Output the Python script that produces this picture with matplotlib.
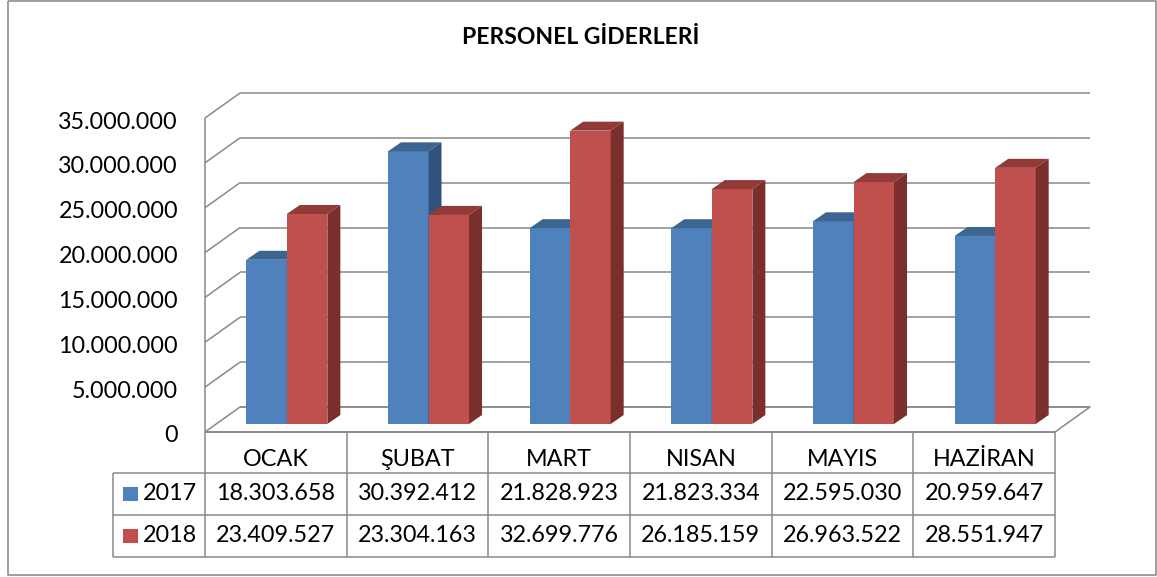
import matplotlib
matplotlib.use('Agg')
import matplotlib.pyplot as plt
import matplotlib.transforms as mtransforms
from matplotlib.patches import Polygon, Rectangle
from matplotlib.lines import Line2D

# ---------------- data ----------------
months = ['OCAK', 'ŞUBAT', 'MART', 'NISAN', 'MAYIS', 'HAZİRAN']
series_names = ['2017', '2018']
v2017 = [18303658, 30392412, 21828923, 21823334, 22595030, 20959647]
v2018 = [23409527, 23304163, 32699776, 26185159, 26963522, 28551947]
yticks = [0, 5000000, 10000000, 15000000, 20000000, 25000000, 30000000, 35000000]
ytick_labels = ['0', '5.000.000', '10.000.000', '15.000.000', '20.000.000',
                '25.000.000', '30.000.000', '35.000.000']
title = 'PERSONEL GİDERLERİ'

# ---------------- style ----------------
FONT = 'Lato'
FS = 16.8
W, H = 1157, 577
grid_col = '#898989'
front_cols = ['#4F81BD', '#C0504D']
top_cols = ['#3D6592', '#913A38']
side_cols = ['#31527D', '#7A2F2D']
LW = 1.1

fig = plt.figure(figsize=(W / 100, H / 100), dpi=100)
ax = fig.add_axes([205 / W, (H - 432) / H, 850 / W, 314 / H])
ax.set_xlim(0, len(months))
ax.set_ylim(0, 35000000)
ax.axis('off')

ID = mtransforms.IdentityTransform()


def P(x, y, dx=0.0, dy=0.0):
    px, py = ax.transData.transform((x, y))
    return (px + dx, py + dy)


def img(x, y):
    return (x, H - y)


def poly(pts, fc, ec='none', lw=0, z=2):
    fig.add_artist(Polygon(pts, closed=True, facecolor=fc, edgecolor=ec,
                           linewidth=lw, transform=ID, zorder=z))


def line(pts, color=grid_col, lw=LW, z=3):
    xs = [p[0] for p in pts]
    ys = [p[1] for p in pts]
    fig.add_artist(Line2D(xs, ys, color=color, linewidth=lw, transform=ID,
                          zorder=z, solid_capstyle='butt'))


# outer border
line([img(8, 1), img(1156, 1), img(1156, 575), img(8, 575), img(8, 1)],
     color='#8f8f8f', lw=1.2)

# wall depth
DX, DY = 35, 25
n = len(months)

# back wall gridlines + side wall gridlines
for yv in yticks:
    line([P(0, yv, DX, DY), P(n, yv, DX, DY)])
    line([P(0, yv), P(0, yv, DX, DY)])
# front edge of left wall
line([P(0, 0), P(0, yticks[-1])])
# floor
line([P(0, 0), P(n, 0), P(n, 0, DX, DY), P(0, 0, DX, DY)])

# bars
B0x, B0y = 11, 8      # front face depth offset
BDx, BDy = 13, 9      # bar depth
bw = 0.286
for i in range(n):
    c = i + 0.5
    for s, vals in enumerate([v2017, v2018]):
        x0 = c - bw + s * bw
        x1 = x0 + bw
        v = vals[i]
        fl = P(x0, 0, B0x, B0y)
        fr = P(x1, 0, B0x, B0y)
        tl = P(x0, v, B0x, B0y)
        tr = P(x1, v, B0x, B0y)
        poly([fl, fr, tr, tl], front_cols[s], z=4)
        poly([tl, tr, (tr[0] + BDx, tr[1] + BDy), (tl[0] + BDx, tl[1] + BDy)],
             top_cols[s], z=4)
        poly([fr, tr, (tr[0] + BDx, tr[1] + BDy), (fr[0] + BDx, fr[1] + BDy)],
             side_cols[s], z=4)

# y tick labels
for yv, lab in zip(yticks, ytick_labels):
    x, y = P(0, yv, -27, -4)
    fig.text(x / W, y / H, lab, ha='right', va='center', fontsize=FS,
             family=FONT, color='black')

# title
fig.text(581 / W, (H - 37) / H, title, ha='center', va='center', fontsize=16.5,
         family=FONT, fontweight='bold', color='black')

# data table
rows_y = [432, 473, 515, 557]
left_x = 113
# horizontal lines
line([P(0, 0), P(n, 0)])
line([img(left_x, rows_y[1]), (P(n, 0)[0], H - rows_y[1])])
line([img(left_x, rows_y[2]), (P(n, 0)[0], H - rows_y[2])])
line([img(left_x, rows_y[3]), (P(n, 0)[0], H - rows_y[3])])
# vertical lines
for k in range(n + 1):
    xk = P(k, 0)[0]
    line([(xk, H - rows_y[0]), (xk, H - rows_y[3])])
line([img(left_x, rows_y[1]), img(left_x, rows_y[3])])

# header text
for i, m in enumerate(months):
    xc = P(i + 0.5, 0)[0]
    fig.text(xc / W, (H - 460) / H, m, ha='center', va='center', fontsize=FS,
             family=FONT, color='black')


def fmt(v):
    return f'{v:,}'.replace(',', '.')


for r, vals in enumerate([v2017, v2018]):
    yc = (rows_y[r + 1] + rows_y[r + 2]) / 2
    for i, v in enumerate(vals):
        xc = P(i + 0.5, 0)[0]
        fig.text(xc / W, (H - yc) / H, fmt(v), ha='center', va='center',
                 fontsize=FS, family=FONT, color='black')
    # legend key
    fig.add_artist(Rectangle(img(123, yc + 7), 15, 14, facecolor=front_cols[r],
                             edgecolor='none', transform=ID, zorder=4))
    fig.text(170 / W, (H - yc) / H, series_names[r], ha='center', va='center',
             fontsize=FS, family=FONT, color='black')

fig.savefig('out.png', dpi=100, facecolor='white')
